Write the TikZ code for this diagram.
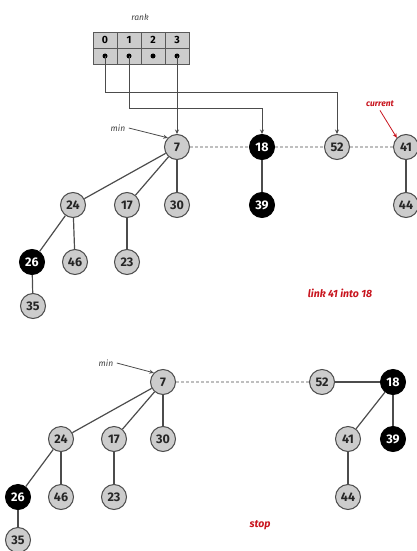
\documentclass[tikz,border=0pt]{standalone}
\usepackage{fontspec}
\setmainfont{Fira Sans}
\usetikzlibrary{arrows.meta}
\definecolor{lnk}{RGB}{200,20,30}
\begin{document}
\begin{tikzpicture}[x=1pt,y=-1pt,
  nd/.style={circle,fill=gray!40,draw=gray!60!black,line width=1pt,minimum size=25pt,inner sep=0pt,font=\bfseries\fontsize{12.5}{12.5}\selectfont,text=black!85},
  bn/.style={nd,fill=black,draw=black,text=white},
  tr/.style={draw=gray!60!black,line width=1.2pt},
  rl/.style={draw=gray!50,line width=1.2pt,densely dashed},
  cell/.style={draw=black!65,fill=gray!40,line width=0.8pt,minimum width=24pt,minimum height=16pt,inner sep=0pt,font=\bfseries\fontsize{10.5}{10.5}\selectfont},
  ptr/.style={draw=black!70,line width=0.8pt,-{Stealth[length=4.5pt,width=4pt]}},
  lab/.style={font=\itshape\fontsize{8.5}{9}\selectfont,text=black!75},
  red/.style={font=\bfseries\itshape\fontsize{10.5}{11}\selectfont,text=lnk}]
\useasboundingbox (0,0) rectangle (416,551);
% rank array
\node[lab] (rk) at (140,17) {rank};
\foreach \i/\x in {0/105,1/129,2/153,3/177}{
  \node[cell] (c\i) at (\x,40) {\i};
  \node[cell] (e\i) at (\x,56) {};
  \node[circle,fill=black,inner sep=0pt,minimum size=5pt] (d\i) at (\x,56) {};
}
% top heap
\node[nd] (t7) at (177,147) {7};
\node[bn] (t18) at (262,147) {18};
\node[nd] (t52) at (337,147) {52};
\node[nd] (t41) at (406,147) {41};
\node[nd] (t24) at (73,205) {24};
\node[nd] (t17) at (127,205) {17};
\node[nd] (t30) at (177,205) {30};
\node[bn] (t39) at (262,205) {39};
\node[nd] (t44) at (406,205) {44};
\node[bn] (t26) at (32,262) {26};
\node[nd] (t46) at (75,262) {46};
\node[nd] (t23) at (127,262) {23};
\node[nd] (t35) at (33,306) {35};
\draw[rl] (t7) -- (t18);
\draw[rl] (t18) -- (t52);
\draw[rl] (t52) -- (t41);
\draw[tr] (t7) -- (t24);
\draw[tr] (t7) -- (t17);
\draw[tr] (t7) -- (t30);
\draw[tr] (t18) -- (t39);
\draw[tr] (t41) -- (t44);
\draw[tr] (t24) -- (t26);
\draw[tr] (t24) -- (t46);
\draw[tr] (t17) -- (t23);
\draw[tr] (t26) -- (t35);
% pointers from rank array
\coordinate (k0) at (337,92);
\coordinate (k1) at (262,108);
\draw[ptr] (d0.center) |- (k0) -- (t52.north);
\draw[ptr] (d1.center) |- (k1) -- (t18.north);
\draw[ptr] (d3.center) -- (t7.north);
% labels
\node[lab] (m1) at (118,128) {min};
\draw[ptr] (m1.east) -- (t7.north west);
\node[lab,font=\bfseries\itshape\fontsize{8.5}{9}\selectfont,text=lnk] (cur) at (380,104) {current};
\draw[ptr,draw=lnk] (cur.south) -- (t41.north west);
\node[red] (lk) at (340,293) {link 41 into 18};
% bottom heap
\node[nd] (b7) at (163,382) {7};
\node[nd] (b52) at (322,382) {52};
\node[bn] (b18) at (393,382) {18};
\node[nd] (b24) at (61,439) {24};
\node[nd] (b17) at (114,439) {17};
\node[nd] (b30) at (163,439) {30};
\node[nd] (b41) at (348,439) {41};
\node[bn] (b39) at (393,439) {39};
\node[bn] (b26) at (18,497) {26};
\node[nd] (b46) at (61,497) {46};
\node[nd] (b23) at (114,497) {23};
\node[nd] (b44) at (348,497) {44};
\node[nd] (b35) at (18,540) {35};
\draw[rl] (b7) -- (b52);
\draw[tr] (b52) -- (b18);
\draw[tr] (b7) -- (b24);
\draw[tr] (b7) -- (b17);
\draw[tr] (b7) -- (b30);
\draw[tr] (b18) -- (b41);
\draw[tr] (b18) -- (b39);
\draw[tr] (b41) -- (b44);
\draw[tr] (b24) -- (b26);
\draw[tr] (b24) -- (b46);
\draw[tr] (b17) -- (b23);
\draw[tr] (b26) -- (b35);
\node[lab] (m2) at (106,363) {min};
\draw[ptr] (m2.east) -- (b7.north west);
\node[red] (st) at (260,525) {stop};
\end{tikzpicture}
\end{document}
